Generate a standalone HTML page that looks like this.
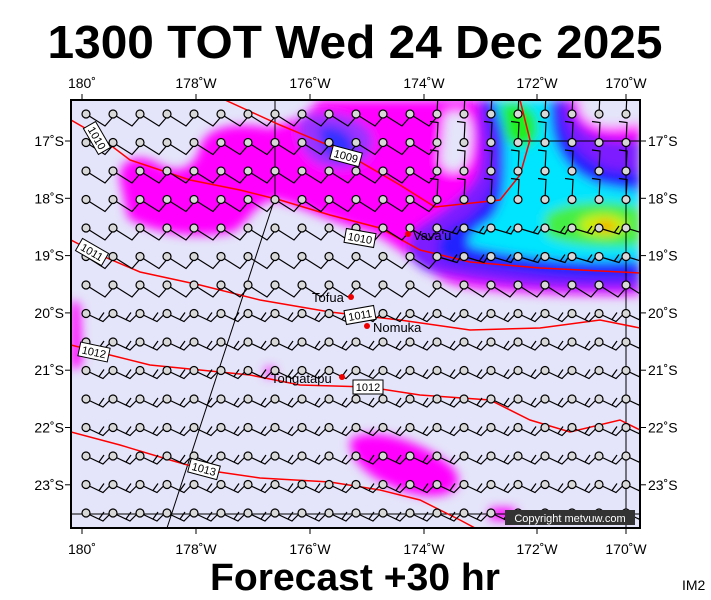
<!DOCTYPE html>
<html><head><meta charset="utf-8"><style>
body{margin:0;background:#fff;}
svg{display:block;font-family:"Liberation Sans",sans-serif;}
</style></head><body>
<svg id="s" width="711" height="600" viewBox="0 0 711 600" xmlns="http://www.w3.org/2000/svg">
<defs>
<clipPath id="c"><rect x="71" y="100" width="569" height="428"/></clipPath>
<filter id="b" x="-20%" y="-20%" width="140%" height="140%"><feGaussianBlur stdDeviation="5"/></filter>
</defs>
<text x="355" y="58" text-anchor="middle" font-size="46" font-weight="bold" textLength="615" lengthAdjust="spacingAndGlyphs">1300 TOT Wed 24 Dec 2025</text>
<rect x="71" y="100" width="569" height="428" fill="#e4e4fa"/>
<g clip-path="url(#c)">
 <g filter="url(#b)">
  <path d="M120,180 C118,158 140,152 160,165 C178,175 195,168 200,148 C205,125 240,122 270,128 L300,118 L320,100 L640,100 L640,295 C560,296 480,292 450,283 C420,270 400,245 370,232 C330,222 300,205 275,200 C255,200 248,225 232,232 C195,240 150,232 128,218 Z" fill="#ff00ff"/>
  <path d="M445,115 C465,105 475,120 470,150 C468,175 445,178 440,160 Z" fill="#e4e4fa"/>
  <path d="M580,100 L640,100 L640,122 C610,132 585,125 580,110 Z" fill="#e4e4fa"/>
  <path d="M300,118 C320,108 360,112 372,135 C378,162 350,175 320,165 C300,155 295,135 300,118 Z" fill="#9b30ff"/>
  <path d="M318,128 C335,122 352,133 355,148 C352,162 335,162 325,152 Z" fill="#3333ff"/>
  <path d="M478,100 L570,100 C578,135 595,140 640,140 L640,290 C560,292 480,285 430,272 C405,262 400,240 420,225 C445,210 465,195 475,178 C485,158 476,130 478,100 Z" fill="#7b1fff"/>
  <path d="M485,100 L560,100 C562,140 580,158 610,170 L640,172 L640,278 C580,282 500,272 445,260 C430,248 440,232 462,222 C485,205 495,188 495,160 C495,130 485,115 485,100 Z" fill="#2020ff"/>
  <path d="M495,100 L550,100 C548,140 560,170 600,185 L640,192 L640,260 C590,264 520,258 470,246 C465,238 475,230 490,220 C505,205 505,180 505,150 C505,125 495,110 495,100 Z" fill="#00e5ff"/>
  <path d="M500,105 C520,98 542,108 537,135 C532,152 510,150 505,135 Z" fill="#22ee22"/>
  <path d="M545,215 C570,198 620,200 640,208 L640,245 C610,250 560,245 545,235 Z" fill="#44ee44"/>
  <path d="M580,220 C600,210 622,214 628,225 C620,240 595,238 580,230 Z" fill="#ccee00"/>
  <path d="M596,224 C605,219 616,222 614,229 C606,234 600,231 596,224 Z" fill="#ff9900"/>
  <path d="M71,300 L80,305 L82,365 L71,370 Z" fill="#ff00ff"/>
  <path d="M350,440 C370,425 420,440 450,465 C470,485 450,500 420,495 C390,490 350,470 350,440 Z" fill="#ff00ff"/>
  <circle cx="270" cy="372" r="5" fill="#ff00ff"/>
  <rect x="490" y="508" width="25" height="12" fill="#ff00ff"/>
 </g>
 <g stroke="#000" stroke-width="1" fill="none">
  <line x1="275" y1="100" x2="275" y2="198"/>
  <line x1="275" y1="198" x2="167" y2="528"/>
  <line x1="626" y1="141" x2="626" y2="528"/>
  <line x1="517" y1="141" x2="640" y2="141"/>
  <line x1="71" y1="514" x2="640" y2="514"/>
 </g>
 <g stroke="#f00" stroke-width="1.5" fill="none">
  <path d="M225,100 L280,125 L340,150 L400,185 L435,207 L500,200 L520,175 L530,140 L520,100"/>
  <path d="M71,120 L97,135 L130,160 L190,180 L240,190 L280,200 L330,215 L380,228 L420,250 L470,262 L540,268 L640,273"/>
  <path d="M71,240 L100,255 L140,272 L200,285 L260,300 L330,312 L400,320 L470,330 L540,328 L600,320 L640,328"/>
  <path d="M71,345 L110,355 L150,365 L200,370 L250,375 L300,385 L368,387 L420,395 L490,400 L530,420 L570,432 L620,420 L640,430"/>
  <path d="M71,432 L120,445 L170,460 L205,470 L260,478 L330,482 L380,490 L420,500 L460,520 L475,528"/>
 </g>
 <g id="barbs" stroke="#000" stroke-width="1.2" fill="none"></g>
</g>
<rect x="71" y="100" width="569" height="428" fill="none" stroke="#000" stroke-width="2"/>
<g font-size="11" text-anchor="middle">
 <g transform="translate(97,138) rotate(60)"><rect x="-15" y="-7" width="30" height="14" fill="#fff" stroke="#000"/><text y="4">1010</text></g>
 <g transform="translate(346,156) rotate(15)"><rect x="-15" y="-7" width="30" height="14" fill="#fff" stroke="#000"/><text y="4">1009</text></g>
 <g transform="translate(360,238) rotate(10)"><rect x="-15" y="-7" width="30" height="14" fill="#fff" stroke="#000"/><text y="4">1010</text></g>
 <g transform="translate(92,252) rotate(30)"><rect x="-15" y="-7" width="30" height="14" fill="#fff" stroke="#000"/><text y="4">1011</text></g>
 <g transform="translate(360,315) rotate(-10)"><rect x="-15" y="-7" width="30" height="14" fill="#fff" stroke="#000"/><text y="4">1011</text></g>
 <g transform="translate(94,352) rotate(12)"><rect x="-15" y="-7" width="30" height="14" fill="#fff" stroke="#000"/><text y="4">1012</text></g>
 <g transform="translate(368,387)"><rect x="-15" y="-7" width="30" height="14" fill="#fff" stroke="#000"/><text y="4">1012</text></g>
 <g transform="translate(204,469) rotate(15)"><rect x="-15" y="-7" width="30" height="14" fill="#fff" stroke="#000"/><text y="4">1013</text></g>
</g>
<g font-size="13" fill="#000">
 <circle cx="408" cy="234" r="3" fill="#e00"/><text x="413" y="240">Vava'u</text>
 <circle cx="351" cy="297" r="3" fill="#e00"/><text x="312" y="302">Tofua</text>
 <circle cx="367" cy="326" r="3" fill="#e00"/><text x="373" y="332">Nomuka</text>
 <circle cx="342" cy="377" r="3" fill="#e00"/><text x="271" y="383">Tongatapu</text>
</g>
<rect x="505" y="510" width="130" height="15" fill="#333"/>
<text x="570" y="522" fill="#fff" font-size="11" text-anchor="middle">Copyright metvuw.com</text>
<g id="ax" font-size="14" fill="#000"></g>
<g id="tk" stroke="#000" stroke-width="1"></g>
<text x="355" y="590" text-anchor="middle" font-size="38" font-weight="bold" textLength="290" lengthAdjust="spacingAndGlyphs">Forecast +30 hr</text>
<text x="682" y="590" font-size="14">IM2</text>
</svg>
<script>
var NS="http://www.w3.org/2000/svg";
function el(p,t,a,txt){var e=document.createElementNS(NS,t);for(var k in a)e.setAttribute(k,a[k]);if(txt)e.textContent=txt;p.appendChild(e);return e;}
var B=document.getElementById("barbs");
for(var r=0;r<15;r++){for(var c=0;c<21;c++){
 var x=86+c*27,y=114+r*28.5,d;
 if(x>420&&r<4){d="M"+x+","+y+" L"+(x+1)+","+(y-20)+" L"+(x-7)+","+(y-21);}
 else if(x>420&&r<6){d="M"+x+","+y+" L"+(x+20)+","+(y+6)+" L"+(x+25)+","+(y-2)+" M"+(x+15)+","+(y+5)+" L"+(x+20)+","+(y-2);}
 else if(r>=7){d="M"+x+","+y+" L"+(x+17)+","+(y+8)+" L"+(x+24)+","+(y+1)+" M"+(x+13)+","+(y+6)+" L"+(x+18)+","+(y-1);}
 else{d="M"+x+","+y+" L"+(x+19)+","+(y+12)+" L"+(x+26)+","+(y+4);}
 el(B,"path",{d:d});
 el(B,"circle",{cx:x,cy:y,r:4,fill:"#d8d8d8"});
}}
var A=document.getElementById("ax"),T=document.getElementById("tk");
var lons=[[82,"180˚"],[196,"178˚W"],[310,"176˚W"],[424,"174˚W"],[537,"172˚W"],[626,"170˚W"]];
lons.forEach(function(l){el(A,"text",{x:l[0],y:88,"text-anchor":"middle"},l[1]);el(A,"text",{x:l[0],y:554,"text-anchor":"middle"},l[1]);
 el(T,"line",{x1:l[0],y1:94,x2:l[0],y2:100});el(T,"line",{x1:l[0],y1:528,x2:l[0],y2:534});});
for(var i=0;i<7;i++){var y=141+i*57.3,s=(17+i)+"˚S";
 el(A,"text",{x:64,y:y+5,"text-anchor":"end"},s);el(A,"text",{x:648,y:y+5},s);
 el(T,"line",{x1:65,y1:y,x2:71,y2:y});el(T,"line",{x1:640,y1:y,x2:646,y2:y});}
</script>
</body></html>
